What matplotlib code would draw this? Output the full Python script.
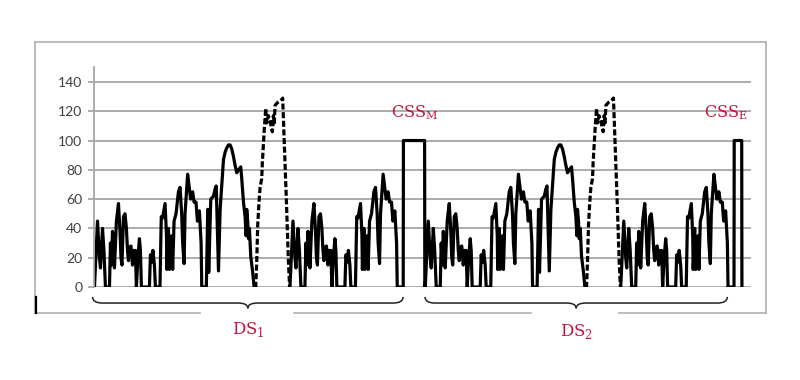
import numpy as np
import matplotlib
matplotlib.use("Agg")
import matplotlib.pyplot as plt
from matplotlib.path import Path
from matplotlib.patches import PathPatch
from matplotlib.lines import Line2D
import matplotlib.transforms as mtransforms

# speed profile of one driving schedule, per phase (time in s, speed in km/h)
low_t = [0, 28, 46, 55, 74, 87, 101, 138, 147, 156, 166, 175, 184, 202, 221, 235, 244, 253, 267, 281,
         294, 304, 313, 322, 336, 350, 359, 368, 377, 386, 400, 414, 423, 432, 506, 515, 529, 538, 552, 561, 589]
low_v = [0, 45, 20, 13, 40, 25, 0, 0, 30, 15, 38, 28, 13, 45, 57, 38, 20, 15, 48, 50,
         40, 25, 18, 27, 28, 15, 25, 20, 25, 0, 20, 33, 25, 0, 0, 22, 17, 25, 15, 0, 0]

med_t = [0, 14, 26, 37, 61, 74, 78, 92, 101, 122, 131, 144, 162, 184, 199, 214, 223, 236, 245, 269,
         285, 297, 315, 328, 346, 359, 377, 393, 399, 433]
med_v = [0, 0, 48, 47, 57, 35, 12, 40, 12, 35, 12, 45, 50, 65, 68, 50, 30, 16, 50, 77,
         67, 60, 65, 58, 58, 45, 52, 30, 0, 0]

high_t = [0, 8, 21, 30, 49, 74, 89, 99, 120, 135, 166, 181, 196, 212, 227, 243, 258, 273, 288, 304,
          325, 334, 350, 365, 374, 380, 389, 396, 405, 417, 435, 448, 455]
high_v = [0, 0, 53, 10, 60, 62, 67, 69, 11, 53, 87, 92, 95, 97, 97, 94, 89, 83, 78, 80,
          82, 74, 58, 48, 35, 53, 45, 33, 40, 21, 10, 0, 0]

xhigh_t = [0, 8, 17, 26, 38, 48, 63, 69, 87, 100, 109, 124, 140, 149, 161, 170, 179, 186, 210, 232,
           247, 256, 271, 293, 308, 320, 323]
xhigh_v = [0, 0, 17, 42, 58, 68, 74, 85, 108, 122, 112, 117, 113, 110, 106, 117, 112, 124, 126, 127,
           128, 129, 98, 53, 19, 0, 0]

# constant speed sections
css_m_t = [0, 21, 23, 218, 220, 224]
css_m_v = [0, 0, 100, 100, 0, 0]
css_e_t = [0, 21, 23, 92, 94]
css_e_v = [0, 0, 100, 100, 0]

phases = {
    "low": (low_t, low_v, "-"),
    "med": (med_t, med_v, "-"),
    "high": (high_t, high_v, "-"),
    "xhigh": (xhigh_t, xhigh_v, "--"),
    "css_m": (css_m_t, css_m_v, "-"),
    "css_e": (css_e_t, css_e_v, "-"),
}
ds_seq = ["low", "med", "high", "xhigh", "low", "med"]
sequence = ds_seq + ["css_m"] + ds_seq + ["css_e"]

y_ticks = [0, 20, 40, 60, 80, 100, 120, 140]

# build pieces, merging consecutive phases with the same style
pieces = []
t0 = 0
starts = []
for name in sequence:
    t, v, ls = phases[name]
    starts.append(t0)
    tt = list(np.array(t) + t0)
    if pieces and pieces[-1][2] == ls:
        pieces[-1][0].extend(tt)
        pieces[-1][1].extend(v)
    else:
        pieces.append([tt, list(v), ls])
    t0 += t[-1]

ds_len = sum(phases[n][0][-1] for n in ds_seq)
ds1_start = starts[0]
ds2_start = starts[len(ds_seq) + 1]

fig = plt.figure(figsize=(8, 3.8), dpi=100)
ax = fig.add_axes([93.5 / 800, 1 - 287 / 380, (750.5 - 93.5) / 800, (287 - 67.3) / 380])

for tt, vv, ls in pieces:
    if ls == "--":
        ax.plot(tt, vv, color="black", lw=2.3, linestyle=(0, (1.9, 0.8)), dash_capstyle="butt")
    else:
        ax.plot(tt, vv, color="black", lw=2.3, solid_joinstyle="round")

ax.set_xlim(-9, 6041)
ax.set_ylim(0, 150)
ax.set_yticks(y_ticks)
ax.set_xticks([])
ax.yaxis.grid(True, color="#a6a6a6", lw=1.3)
ax.set_axisbelow(True)
for s in ["top", "right", "bottom"]:
    ax.spines[s].set_visible(False)
ax.spines["left"].set_color("#a6a6a6")
ax.spines["left"].set_linewidth(1.3)
ax.tick_params(axis="y", length=4, color="#a6a6a6", width=1.3, pad=4,
               labelsize=10, labelcolor="#404040")
for lab in ax.get_yticklabels():
    lab.set_family("Lato")

red = "#C0143C"
ax.text(2946, 116, r"CSS$_\mathregular{M}$", color=red, fontsize=11.5, family="DejaVu Serif",
        ha="center", va="baseline")
ax.text(5810, 116, r"CSS$_\mathregular{E}$", color=red, fontsize=11.5, family="DejaVu Serif",
        ha="center", va="baseline")

# curly braces under each driving schedule
trans = mtransforms.blended_transform_factory(ax.transData, ax.transAxes)


def brace(x0, x1):
    xm = (x0 + x1) / 2
    w = 90
    y_top, y_mid, y_tip = -0.045, -0.073, -0.097
    verts = [(x0, y_top), (x0, y_mid), (x0 + w, y_mid), (xm - w, y_mid),
             (xm, y_mid), (xm, y_tip), (xm, y_mid), (xm + w, y_mid),
             (x1 - w, y_mid), (x1, y_mid), (x1, y_top)]
    codes = [Path.MOVETO, Path.CURVE3, Path.CURVE3, Path.LINETO,
             Path.CURVE3, Path.CURVE3, Path.CURVE3, Path.CURVE3,
             Path.LINETO, Path.CURVE3, Path.CURVE3]
    ax.add_patch(PathPatch(Path(verts, codes), fill=False, lw=1.1, color="#222222",
                           transform=trans, clip_on=False))
    return xm


m1 = brace(ds1_start - 18, ds1_start + ds_len + 20)
m2 = brace(ds2_start - 2, ds2_start + ds_len - 40)
ax.text(m1, -0.214, r"DS$_\mathregular{1}$", color=red, fontsize=12, family="DejaVu Serif",
        ha="center", va="baseline", transform=trans)
ax.text(m2, -0.223, r"DS$_\mathregular{2}$", color=red, fontsize=12, family="DejaVu Serif",
        ha="center", va="baseline", transform=trans)

# outer frame (with gaps behind the DS labels)
fc = "#b0b0b0"
W, H = 800.0, 380.0


def fline(xs, ys, color=fc, lw=1.2):
    fig.add_artist(Line2D([x / W for x in xs], [1 - y / H for y in ys], color=color, lw=lw))


fline([35, 766], [42, 42])
fline([35, 35], [42, 313])
fline([766, 766], [42, 313])
fline([35, 200], [313, 313])
fline([294, 531], [313, 313])
fline([619, 766], [313, 313])
fline([36, 36], [297, 313], color="black", lw=1.6)

fig.savefig("out.png", dpi=100)
